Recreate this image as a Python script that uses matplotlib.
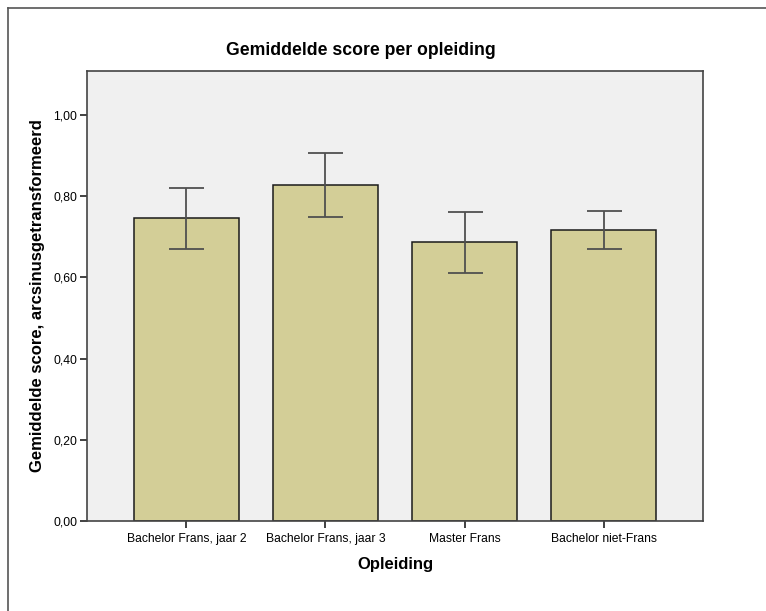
import matplotlib.pyplot as plt
from matplotlib.lines import Line2D
import numpy as np

# opleidingen en gemiddelde scores (arcsinus-getransformeerd)
categories = ["Bachelor Frans, jaar 2", "Bachelor Frans, jaar 3", "Master Frans", "Bachelor niet-Frans"]
means = [0.746, 0.828, 0.687, 0.717]
err_low = [0.669, 0.749, 0.611, 0.670]
err_high = [0.821, 0.906, 0.762, 0.764]
yticks = [0.0, 0.2, 0.4, 0.6, 0.8, 1.0]
ytick_labels = ["0,00", "0,20", "0,40", "0,60", "0,80", "1,00"]

plt.rcParams['font.family'] = ['Liberation Sans', 'DejaVu Sans']

fig = plt.figure(figsize=(7.66, 6.11), dpi=100)
ax = fig.add_axes([0.1136, 0.1473, 0.8042, 0.7365])
ax.set_facecolor('#f0f0f0')

x = np.arange(len(categories))
means = np.array(means)
yerr = np.array([means - np.array(err_low), np.array(err_high) - means])

ax.bar(x, means, width=0.75, color='#d3ce97', edgecolor='#1a1a1a', linewidth=1.1, zorder=2)
ax.errorbar(x, means, yerr=yerr, fmt='none', ecolor='#505050', elinewidth=1.3,
            capsize=12.6, capthick=1.3, zorder=3)

ax.set_xlim(-0.715, 3.715)
ax.set_ylim(0, 1.108)
ax.set_xticks(x)
ax.set_xticklabels(categories, fontsize=8.7)
ax.set_yticks(yticks)
ax.set_yticklabels(ytick_labels, fontsize=8.8)
ax.tick_params(direction='out', length=5, width=1.3, color='#333333', pad=2)
ax.tick_params(axis='x', pad=4)

for s in ax.spines.values():
    s.set_color('#444444')
    s.set_linewidth(1.2)

ax.set_xlabel("Opleiding", fontsize=12, fontweight='bold', labelpad=8)
ax.set_ylabel("Gemiddelde score, arcsinusgetransformeerd", fontsize=12, fontweight='bold', labelpad=6)
fig.text(0.471, 0.918, "Gemiddelde score per opleiding", fontsize=12.7, fontweight='bold', ha='center', va='center')

# outer frame lines (top and left)
fig.add_artist(Line2D([8/766, 1], [1 - 8/611, 1 - 8/611], color='#555555', lw=1.2))
fig.add_artist(Line2D([8/766, 8/766], [0, 1 - 8/611], color='#555555', lw=1.2))

plt.savefig("out.png", dpi=100)
